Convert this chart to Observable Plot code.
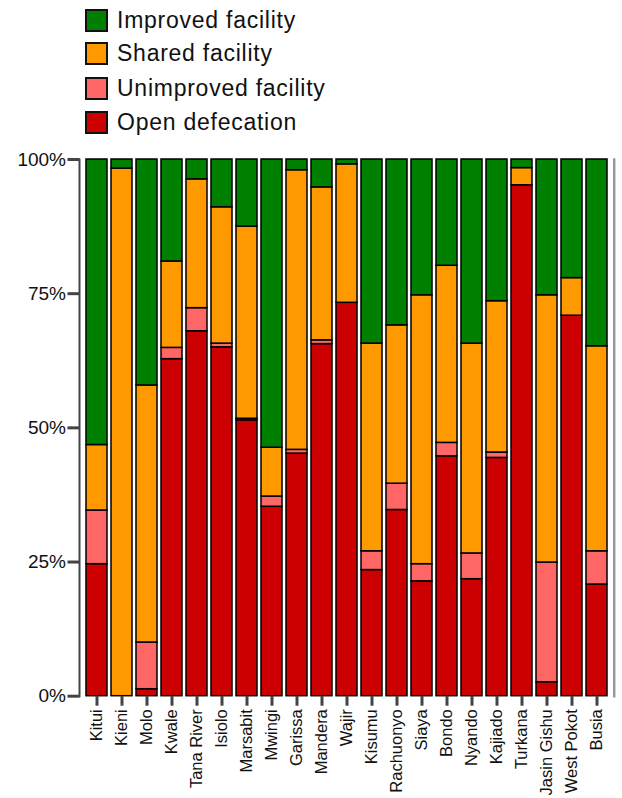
<!DOCTYPE html>
<html>
<head>
<meta charset="utf-8">
<script src="https://cdn.jsdelivr.net/npm/d3@7"></script>
<script src="https://cdn.jsdelivr.net/npm/@observablehq/plot@0.6"></script>
<style>
  body { margin: 0; background: #fff; font-family: "Liberation Sans", Arial, sans-serif; }
  #legend { position: relative; width: 622px; height: 145px; }
  .item { position: absolute; left: 85px; height: 23px; display: flex; align-items: center; }
  .sw { width: 19px; height: 19px; border: 2px solid #111; box-sizing: content-box; }
  .lab { margin-left: 9px; font-size: 23px; color: #111; letter-spacing: 0.75px; white-space: nowrap; }
  svg { display: block; }
</style>
</head>
<body>
<div id="legend"></div>
<div id="chart"></div>
<script>
const districts = ["Kitui","Kieni","Molo","Kwale","Tana River","Isiolo","Marsabit","Mwingi","Garissa","Mandera","Wajir","Kisumu","Rachuonyo","Siaya","Bondo","Nyando","Kajiado","Turkana","Jasin Gishu","West Pokot","Busia"];
const openDefecation = [24.6, 0, 1.3, 62.8, 68.0, 65.0, 51.4, 35.3, 45.2, 65.6, 73.3, 23.5, 34.7, 21.4, 44.7, 21.8, 44.4, 95.2, 2.6, 70.9, 20.8];
const unimprovedFacility = [10.0, 0, 8.7, 2.1, 4.3, 0.7, 0.3, 1.9, 0.7, 0.7, 0, 3.5, 4.9, 3.2, 2.5, 4.8, 1.0, 0, 22.3, 0, 6.2];
const sharedFacility = [12.2, 98.3, 47.9, 16.1, 24.0, 25.4, 35.8, 9.1, 52.1, 28.5, 25.8, 38.7, 29.5, 50.1, 33.0, 39.1, 28.2, 3.2, 49.8, 7.0, 38.2];
const improvedFacility = [53.2, 1.7, 42.1, 19.0, 3.7, 8.9, 12.5, 53.7, 2.0, 5.2, 0.9, 34.3, 30.9, 25.3, 19.8, 34.3, 26.4, 1.6, 25.3, 22.1, 34.8];
const categories = ["Open defecation", "Unimproved facility", "Shared facility", "Improved facility"];
const colors = ["#cc0000", "#ff6666", "#ff9900", "#008000"];
const yTicks = [0, 25, 50, 75, 100];

const series = [openDefecation, unimprovedFacility, sharedFacility, improvedFacility];
const data = [];
districts.forEach((d, i) => {
  categories.forEach((c, j) => {
    if (series[j][i] > 0) data.push({district: d, category: c, value: series[j][i]});
  });
});

// Legend (top-to-bottom: reverse of stacking order)
const legend = document.getElementById("legend");
const tops = [9, 42, 77, 111];
[3, 2, 1, 0].forEach((j, k) => {
  const it = document.createElement("div");
  it.className = "item";
  it.style.top = tops[k] + "px";
  const sw = document.createElement("div");
  sw.className = "sw";
  sw.style.background = colors[j];
  const lab = document.createElement("span");
  lab.className = "lab";
  lab.textContent = categories[j];
  it.appendChild(sw);
  it.appendChild(lab);
  legend.appendChild(it);
});

const chart = Plot.plot({
  width: 622,
  height: 653,
  marginTop: 14,
  marginLeft: 79.5,
  marginRight: 9.3,
  marginBottom: 102.3,
  style: {fontFamily: "'Liberation Sans', Arial, sans-serif", color: "#111", background: "#fff"},
  x: {domain: districts, paddingInner: 0.17, paddingOuter: 0.02, label: null},
  y: {domain: [0, 100], label: null},
  color: {domain: categories, range: colors},
  marks: [
    Plot.barY(data, {x: "district", y: "value", fill: "category", order: categories, stroke: "#000", strokeWidth: 1.5}),
    Plot.frame({anchor: "right", stroke: "#999", strokeWidth: 2.5, dx: 1}),
    Plot.frame({anchor: "left", stroke: "#444", strokeWidth: 2, dx: -0.5}),
    Plot.axisY({ticks: yTicks, tickFormat: d => d + "%", tickSize: 12, tickPadding: 2, stroke: "#444", strokeWidth: 3, fontSize: 19, fill: "#111", label: null, style: {letterSpacing: "0.5px"}}),
    Plot.axisX({tickSize: 10, tickPadding: 3, tickRotate: -90, stroke: "#444", strokeWidth: 3, fontSize: 16.5, fill: "#111", label: null})
  ]
});
document.getElementById("chart").appendChild(chart);
</script>
</body>
</html>
